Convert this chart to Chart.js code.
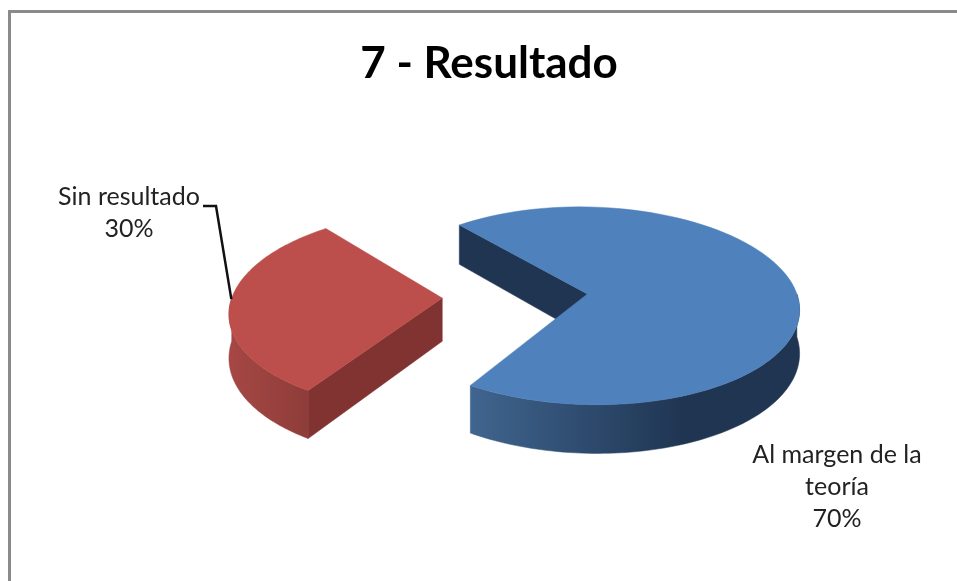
<!DOCTYPE html>
<html>
<head>
<meta charset="utf-8">
<title>7 - Resultado</title>
<script src="https://cdn.jsdelivr.net/npm/chart.js@4/dist/chart.umd.min.js"></script>
<style>
html, body { margin: 0; padding: 0; background: #fff; overflow: hidden; }
#caja { position: absolute; left: 8px; top: 10px; width: 960px; height: 580px; border-left: 3px solid #8a8a8a; border-top: 3px solid #8a8a8a; }
#grafico { position: absolute; left: 0; top: 0; }
</style>
</head>
<body>
<div id="caja"></div>
<canvas id="grafico" width="957" height="581"></canvas>
<script>
var categorias = ['Al margen de la teoría', 'Sin resultado'];
var valores = [70, 30];
var lineasEtiqueta = [['Al margen de la', 'teoría'], ['Sin resultado']];
var coloresTapa = ['#4f81bd', '#bc4f4b'];
var coloresCorte = ['#1f3552', '#803330'];
var gradientesLado = [['#40658f', '#1f3552'], ['#a64744', '#8e3d3a']];

// proyeccion del pastel plano a la vista 3D
var vista = { cx: 515, cy: 296, rx: 210, ry: 98, persp: 0.12, fondo: 43 };

function proyecta(u, v, abajo) {
    var k = 1 / (1 - vista.persp * v);
    return {
        x: vista.cx + vista.rx * u * k,
        y: vista.cy + vista.ry * v * k + (abajo ? vista.fondo * k : 0)
    };
}

function datosArco(arco) {
    var medio = (arco.startAngle + arco.endAngle) / 2;
    var sep = arco.options.offset / arco.outerRadius;
    return { ini: arco.startAngle, fin: arco.endAngle, medio: medio, u0: sep * Math.cos(medio), v0: sep * Math.sin(medio) };
}

function enBorde(d, ang, abajo) {
    return proyecta(d.u0 + Math.cos(ang), d.v0 + Math.sin(ang), abajo);
}

function poligono(ctx, puntos, color) {
    ctx.beginPath();
    puntos.forEach(function (p, i) {
        if (i == 0) ctx.moveTo(p.x, p.y); else ctx.lineTo(p.x, p.y);
    });
    ctx.closePath();
    ctx.fillStyle = color;
    ctx.fill();
    ctx.strokeStyle = color;
    ctx.lineWidth = 0.5;
    ctx.stroke();
}

function muestras(a, b) {
    var lista = [];
    var n = 90;
    for (var i = 0; i <= n; i++) lista.push(a + (b - a) * i / n);
    return lista;
}

var pastel3d = {
    id: 'pastel3d',
    beforeDatasetsDraw: function (chart) {
        var ctx = chart.ctx;
        var arcos = chart.getDatasetMeta(0).data;
        arcos.forEach(function (arco, i) {
            var d = datosArco(arco);
            var centroArr = proyecta(d.u0, d.v0, false);
            var centroAb = proyecta(d.u0, d.v0, true);

            // cortes que miran al frente
            [[d.ini, d.ini - Math.PI / 2], [d.fin, d.fin + Math.PI / 2]].forEach(function (c) {
                if (Math.sin(c[1]) > 0) {
                    poligono(ctx, [centroArr, enBorde(d, c[0], false), enBorde(d, c[0], true), centroAb], coloresCorte[i]);
                }
            });

            // lado exterior, solo la parte del frente
            var pi2 = Math.PI * 2;
            for (var vuelta = 0; vuelta < 2; vuelta++) {
                var a = Math.max(d.ini, vuelta * pi2);
                var b = Math.min(d.fin, vuelta * pi2 + Math.PI);
                if (b > a) {
                    var arriba = muestras(a, b).map(function (t) { return enBorde(d, t, false); });
                    var abajo = muestras(b, a).map(function (t) { return enBorde(d, t, true); });
                    var xs = arriba.map(function (p) { return p.x; });
                    var gx0 = Math.min.apply(null, xs);
                    var gx1 = Math.max.apply(null, xs);
                    var grad = ctx.createLinearGradient(gx0, 0, gx0 + (gx1 - gx0) * (i == 0 ? 0.65 : 1), 0);
                    grad.addColorStop(0, gradientesLado[i][0]);
                    grad.addColorStop(1, gradientesLado[i][1]);
                    poligono(ctx, arriba.concat(abajo), grad);
                }
            }

            // tapa
            var tapa = [centroArr].concat(muestras(d.ini, d.fin).map(function (t) { return enBorde(d, t, false); }));
            poligono(ctx, tapa, coloresTapa[i]);
        });
        return false;
    },
    afterDraw: function (chart) {
        var ctx = chart.ctx;
        var arcos = chart.getDatasetMeta(0).data;

        // linea guia de "Sin resultado"
        var d = datosArco(arcos[1]);
        var p = enBorde(d, d.medio + 0.05, false);
        ctx.beginPath();
        ctx.moveTo(203, 206);
        ctx.lineTo(216, 206);
        ctx.lineTo(p.x, p.y);
        ctx.strokeStyle = '#111';
        ctx.lineWidth = 2.5;
        ctx.stroke();

        ctx.font = '25px Lato';
        ctx.fillStyle = '#222';
        ctx.textAlign = 'center';
        ctx.textBaseline = 'middle';
        var posiciones = [{ x: 837, y: 455 }, { x: 129, y: 197 }];
        categorias.forEach(function (nombre, i) {
            var lineas = lineasEtiqueta[i].concat([valores[i] + '%']);
            lineas.forEach(function (txt, j) {
                ctx.fillText(txt, posiciones[i].x, posiciones[i].y + j * 32);
            });
        });
    }
};

var contexto = document.getElementById('grafico').getContext('2d');

var grafico = new Chart(contexto, {
    type: 'pie',
    data: {
        labels: categorias,
        datasets: [{
            data: valores,
            backgroundColor: coloresTapa,
            borderWidth: 0,
            offset: 71
        }]
    },
    options: {
        responsive: false,
        animation: false,
        rotation: 320.5,
        layout: { padding: { left: 21, top: 37 } },
        plugins: {
            legend: { display: false },
            tooltip: { enabled: false },
            title: {
                display: true,
                text: '7 - Resultado',
                color: '#000',
                font: { family: 'Lato', size: 44, weight: 'bold' },
                padding: { top: 0, bottom: 10 }
            }
        }
    },
    plugins: [pastel3d]
});
</script>
</body>
</html>
